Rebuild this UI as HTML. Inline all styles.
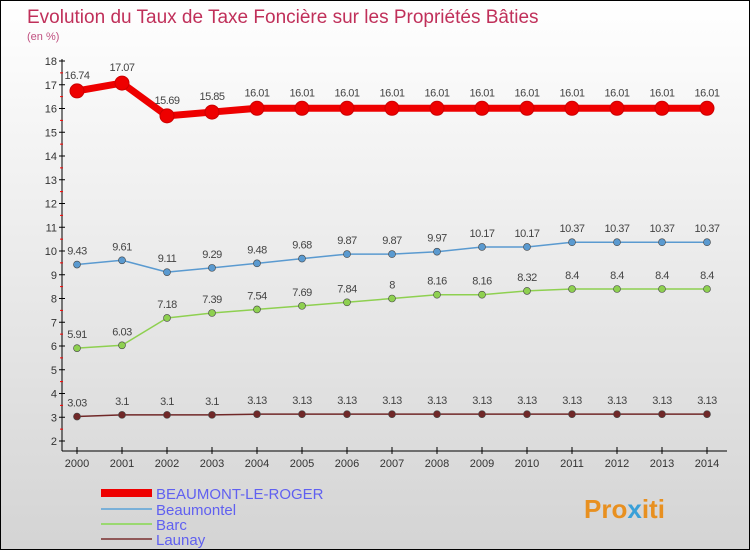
<!DOCTYPE html>
<html><head><meta charset="utf-8"><style>
body{margin:0}
#c{width:750px;height:550px;box-sizing:border-box;border:1px solid #000;background:linear-gradient(#fff,#d4d4d4);position:relative;font-family:"Liberation Sans",sans-serif;overflow:hidden}
</style></head><body>
<div id="c">
<svg width="750" height="550" style="position:absolute;left:0;top:0" id="s">
<text x="26" y="22" font-size="19" fill="#c0305a">Evolution du Taux de Taxe Foncière sur les Propriétés Bâties</text>
<text x="26" y="39" font-size="11" fill="#c05080">(en %)</text>
<g id="ax"></g><g id="series"></g><g id="legend"></g>
<text x="583" y="517" font-size="26" font-weight="bold" fill="#e89020">Pro<tspan fill="#3aa0d8">x</tspan>iti</text>
</svg>
</div>
<script>
const years=[2000,2001,2002,2003,2004,2005,2006,2007,2008,2009,2010,2011,2012,2013,2014];
const names=["BEAUMONT-LE-ROGER","Beaumontel","Barc","Launay"];
const sBeaumont=[16.74,17.07,15.69,15.85,16.01,16.01,16.01,16.01,16.01,16.01,16.01,16.01,16.01,16.01,16.01];
const sBeaumontel=[9.43,9.61,9.11,9.29,9.48,9.68,9.87,9.87,9.97,10.17,10.17,10.37,10.37,10.37,10.37];
const sBarc=[5.91,6.03,7.18,7.39,7.54,7.69,7.84,8,8.16,8.16,8.32,8.4,8.4,8.4,8.4];
const sLaunay=[3.03,3.1,3.1,3.1,3.13,3.13,3.13,3.13,3.13,3.13,3.13,3.13,3.13,3.13,3.13];
const yTicks=[2,3,4,5,6,7,8,9,10,11,12,13,14,15,16,17,18];
const NS="http://www.w3.org/2000/svg";
const X=i=>76+i*45, Y=v=>440-(v-2)*23.75;
function mk(p,t,a){const e=document.createElementNS(NS,t);for(const k in a)e.setAttribute(k,a[k]);p.appendChild(e);return e;}
const ax=document.getElementById('ax');
let e=mk(ax,'line',{x1:61,y1:58,x2:61,y2:450,stroke:'#000'});


e=mk(ax,'line',{x1:61,y1:450,x2:726,y2:450,stroke:'#000'});


yTicks.forEach(v=>{
 mk(ax,'line',{x1:58,x2:64,y1:Y(v),y2:Y(v),stroke:'#000'});
 if(v<18)mk(ax,'line',{x1:59,x2:62,y1:Y(v+0.5),y2:Y(v+0.5),stroke:'#f00'});
 const t=mk(ax,'text',{x:56,y:Y(v)+4,'font-size':11,fill:'#333','text-anchor':'end'});t.textContent=v;
 
 
});
years.forEach((y,i)=>{
 mk(ax,'line',{x1:X(i),x2:X(i),y1:446,y2:453,stroke:'#000'});
 const t=mk(ax,'text',{x:X(i),y:466,'font-size':11,fill:'#333','text-anchor':'middle'});t.textContent=y;
 
 
});
const cfg=[[sBeaumont,'#e00',7,7],[sBeaumontel,'#5a9ad0',1.5,3.5],[sBarc,'#8ed050',1.5,3.5],[sLaunay,'#702828',1.5,3.5]];
const sg=document.getElementById('series');
cfg.forEach(([d,c,w,r],k)=>{
 const g=mk(sg,'g',{});
 
 
 const pl=mk(g,'polyline',{points:d.map((v,i)=>X(i)+','+Y(v)).join(' '),fill:'none',stroke:c,'stroke-width':w,'stroke-linejoin':'round'});
 
 
 d.forEach((v,i)=>{
  const p=mk(g,'circle',{cx:X(i),cy:Y(v),r:r,fill:c,stroke:k?'#444':'#c00','stroke-width':k?0.6:1});
  
  
  const t=mk(g,'text',{x:X(i),y:Y(v)-(k?10:12),'font-size':11,fill:'#444','text-anchor':'middle','letter-spacing':'-0.5'});t.textContent=v;
  
  
 });
});
const lg=document.getElementById('legend');
[['#e00',8],['#7ab0d8',2],['#9ad870',2],['#905858',2]].forEach(([c,w],k)=>{
 const yy=[492,508,523,538][k];
 const g=mk(lg,'g',{});
 
 
 mk(g,'line',{x1:100,x2:151,y1:yy,y2:yy,stroke:c,'stroke-width':w});
 const t=mk(g,'text',{x:155,y:yy+6,'font-size':15,fill:'#6060f0'});t.textContent=names[k];
});
</script>
</body></html>
